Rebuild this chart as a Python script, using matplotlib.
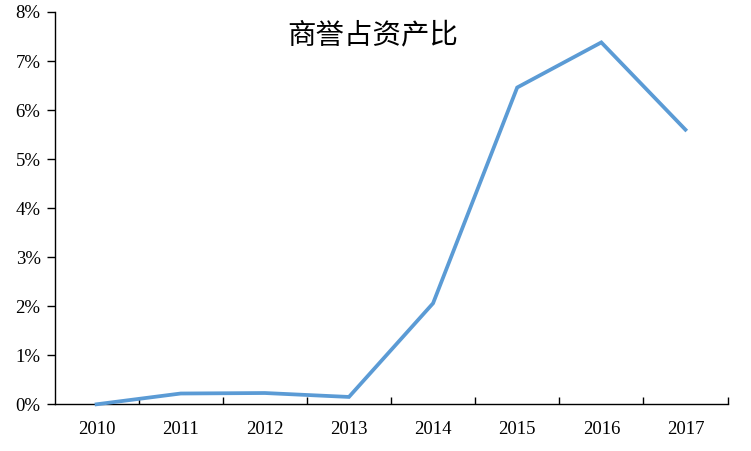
import matplotlib
matplotlib.use("Agg")
import matplotlib.pyplot as plt
from matplotlib.ticker import FixedLocator, FuncFormatter

years = ["2010", "2011", "2012", "2013", "2014", "2015", "2016", "2017"]
ratio = [0.00, 0.22, 0.23, 0.15, 2.06, 6.46, 7.38, 5.60]
title = "商誉占资产比"

fig = plt.figure(figsize=(7.51, 4.51), dpi=100)
ax = fig.add_axes([54.5/751, 1 - 404.3/451, (727.5-54.5)/751, (404.3-12)/451])

x = list(range(len(years)))
ax.plot(x, ratio, color="#5B9BD5", linewidth=2.7, solid_joinstyle="miter", clip_on=False, zorder=3)

ax.set_xlim(-0.5, len(years) - 0.5)
ax.set_ylim(0, 8)

for s in ["top", "right"]:
    ax.spines[s].set_visible(False)
for s in ["left", "bottom"]:
    ax.spines[s].set_linewidth(1.0)
    ax.spines[s].set_color("black")

serif = "Liberation Serif"
ax.yaxis.set_major_locator(FixedLocator(range(0, 9)))
ax.yaxis.set_major_formatter(FuncFormatter(lambda v, p: f"{int(round(v))}%"))
ax.tick_params(axis="y", direction="out", length=6, width=1, pad=4, labelsize=13.5)
for lbl in ax.get_yticklabels():
    lbl.set_fontfamily(serif)

ax.set_xticks(x)
ax.set_xticklabels(years, fontfamily=serif, fontsize=13.5)
ax.tick_params(axis="x", which="major", length=0, pad=12)
ax.xaxis.set_minor_locator(FixedLocator([i + 0.5 for i in range(len(years))]))
ax.tick_params(axis="x", which="minor", direction="in", length=5, width=1)

fig.text(373/751, 1 - 35/451, title, ha="center", va="center",
         fontsize=20.5, family=["Noto Sans CJK SC", "DejaVu Sans"], fontweight="light")

fig.savefig("out.png", dpi=100)
